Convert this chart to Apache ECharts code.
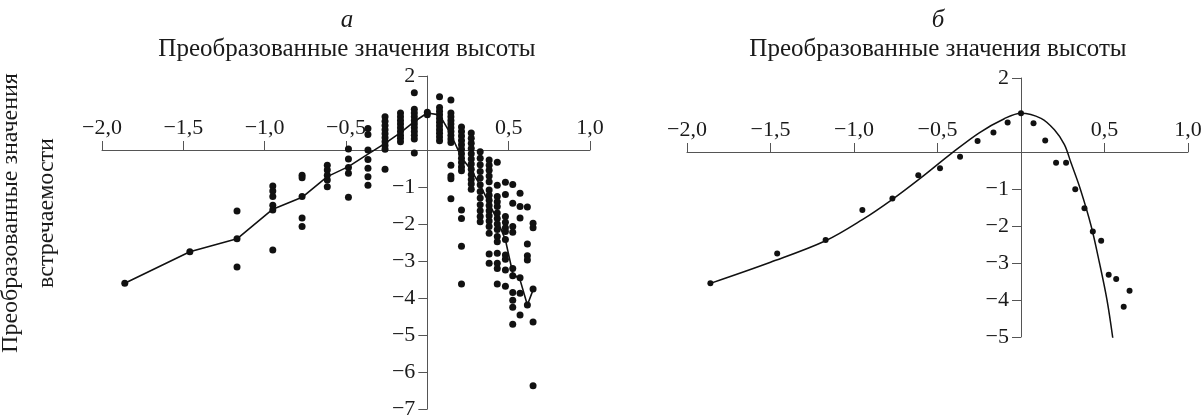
<!DOCTYPE html>
<html>
<head>
<meta charset="utf-8">
<title>Преобразованные значения</title>
<script src="https://cdn.jsdelivr.net/npm/echarts@6/dist/echarts.min.js"></script>
<style>
  html, body { margin: 0; padding: 0; background: #fff; }
  #chart { width: 1202px; height: 416px; }
</style>
</head>
<body>
<div id="chart"></div>
<script>
// height classes (transformed), shared by both panels
const heightX = [-1.86, -1.46, -1.17, -0.95, -0.77, -0.615, -0.485, -0.365, -0.26, -0.165, -0.08, 0,
  0.075, 0.145, 0.21, 0.27, 0.325, 0.38, 0.43, 0.48, 0.525, 0.57, 0.615, 0.65]

// panel a: raw points per height class
const pointsA = [
  [-3.6],
  [-2.75],
  [-1.65, -2.4, -3.16],
  [-0.97, -1.11, -1.26, -1.49, -1.62, -2.7],
  [-0.68, -0.75, -1.26, -1.84, -2.07],
  [-0.41, -0.54, -0.68, -0.81, -0.99],
  [0.03, -0.24, -0.47, -0.63, -1.28],
  [0.58, 0.42, 0.0, -0.26, -0.49, -0.72, -0.95],
  [0.9, 0.78, 0.66, 0.55, 0.44, 0.33, 0.22, 0.12, 0.02, -0.52],
  [1.0, 0.9, 0.8, 0.7, 0.6, 0.5, 0.4, 0.32, 0.22],
  [1.55, 1.1, 1.0, 0.9, 0.8, 0.7, 0.6, 0.5, 0.4, 0.3, -0.08],
  [1.02, 0.95],
  [1.44, 1.15, 1.05, 0.95, 0.85, 0.75, 0.65, 0.55, 0.45, 0.35, 0.25],
  [1.35, 1.0, 0.9, 0.8, 0.7, 0.6, 0.5, 0.4, 0.3, 0.2, -0.41, -0.7, -0.78, -1.32],
  [0.62, 0.5, 0.38, 0.26, 0.14, 0.02, -0.1, -0.22, -0.34, -0.46, -0.56, -1.62, -1.85, -2.6, -3.62],
  [0.46, 0.32, 0.18, 0.04, -0.1, -0.24, -0.38, -0.52, -0.66, -0.8, -0.92, -1.06],
  [-0.05, -0.22, -0.4, -0.58, -0.76, -0.94, -1.12, -1.3, -1.48, -1.64, -1.8, -1.94],
  [-0.27, -0.41, -0.55, -0.7, -0.86, -1.08, -1.22, -1.36, -1.5, -1.64, -1.78, -1.92, -2.07, -2.25, -2.81, -3.06],
  [-0.33, -0.95, -1.26, -1.4, -1.53, -1.7, -1.85, -2.0, -2.15, -2.34, -2.48, -2.79, -3.06, -3.2, -3.62],
  [-0.87, -1.2, -1.8, -1.95, -2.1, -2.2, -2.42, -2.84, -2.95, -3.24, -3.68],
  [-0.93, -1.44, -2.07, -2.22, -3.2, -3.4, -3.85, -4.06, -4.25, -4.71],
  [-1.17, -1.53, -1.84, -3.45, -3.87, -4.46],
  [-1.54, -2.54, -2.86, -2.97, -4.19],
  [-1.98, -2.1, -3.76, -4.65, -6.37]
]

// panel a: broken line through the class values
const lineA = [-3.6, -2.75, -2.4, -1.6, -1.28, -0.72, -0.45, -0.11, 0.18, 0.47, 0.77, 1.0,
  0.95, 0.42, -0.2, -0.55, -0.95, -1.44, -1.89, -2.43, -3.33, -3.51, -4.19, -3.78]

// panel b: class means
const meansB = [-3.55, -2.74, -2.38, -1.57, -1.26, -0.63, -0.44, -0.13, 0.3, 0.53, 0.8, 1.05,
  0.78, 0.31, -0.29, -0.29, -1.01, -1.52, -2.15, -2.4, -3.32, -3.43, -4.18, -3.75]

// panel b: fitted curve
const curveBX = [-1.86, -1.5, -1.17, -0.95, -0.77, -0.6, -0.42, -0.25, -0.1, 0, 0.12, 0.2, 0.26, 0.3, 0.355, 0.42, 0.47, 0.515, 0.55]
const curveBY = [-3.55, -2.98, -2.4, -1.83, -1.28, -0.7, -0.05, 0.52, 0.9, 1.05, 0.91, 0.6, 0.2, -0.3, -1, -2, -3, -4, -5.04]

const xTicks = [-2, -1.5, -1, -0.5, 0.5, 1]
const yTicksA = [2, -1, -2, -3, -4, -5, -6, -7]
const yTicksB = [2, -1, -2, -3, -4, -5]

const FONT = '"Liberation Serif", "DejaVu Serif", serif'
const INK = '#1a1a1a'
const AXIS = '#555'
const TICK_SIZE = 22
const TEXT_SIZE = 25

function fmtX(v) {
  return (v < 0 ? '\u2212' : '') + Math.abs(v).toFixed(1).replace('.', ',')
}
function fmtY(v) {
  return (v < 0 ? '\u2212' : '') + Math.abs(v)
}

// the axes cross at zero: shift each axis line into the grid with a negative offset
function xAxis(gridIndex, offset) {
  return {
    type: 'value', gridIndex: gridIndex, min: -2, max: 1, interval: 0.5, position: 'top', offset: offset,
    axisLine: { onZero: false, lineStyle: { color: AXIS, width: 1 } },
    axisTick: { customValues: xTicks, length: 9, lineStyle: { color: AXIS } },
    axisLabel: { customValues: xTicks, formatter: fmtX, margin: 11, fontFamily: FONT, fontSize: TICK_SIZE, color: INK },
    splitLine: { show: false }
  }
}
function yAxis(gridIndex, min, ticks, offset) {
  return {
    type: 'value', gridIndex: gridIndex, min: min, max: 2, interval: 1, position: 'left', offset: offset,
    axisLine: { onZero: false, lineStyle: { color: AXIS, width: 1 } },
    axisTick: { customValues: ticks, length: 9, lineStyle: { color: AXIS } },
    axisLabel: { customValues: ticks, formatter: fmtY, margin: 12, fontFamily: FONT, fontSize: TICK_SIZE, color: INK },
    splitLine: { show: false }
  }
}

const scatterData = []
heightX.forEach((x, i) => pointsA[i].forEach(y => scatterData.push([x, y])))

const chart = echarts.init(document.getElementById('chart'), null, { renderer: 'canvas' })
chart.setOption({
  animation: false,
  backgroundColor: '#fff',
  grid: [
    { left: 102, top: 76, width: 488, height: 333, outerBoundsMode: 'none' },
    { left: 687, top: 78, width: 501, height: 259, outerBoundsMode: 'none' }
  ],
  // 37 px per y unit, zero 74 px below the top; x zero at 2/3 of the width
  xAxis: [xAxis(0, -74), xAxis(1, -74)],
  yAxis: [yAxis(0, -7, yTicksA, -488 * 2 / 3), yAxis(1, -5, yTicksB, -501 * 2 / 3)],
  graphic: [
    { type: 'text', x: 347, y: 20, style: { text: 'а', font: 'italic ' + TEXT_SIZE + 'px ' + FONT, fill: INK, align: 'center', verticalAlign: 'middle' } },
    { type: 'text', x: 347, y: 49, style: { text: 'Преобразованные значения высоты', font: TEXT_SIZE + 'px ' + FONT, fill: INK, align: 'center', verticalAlign: 'middle' } },
    { type: 'text', x: 938, y: 20, style: { text: 'б', font: 'italic ' + TEXT_SIZE + 'px ' + FONT, fill: INK, align: 'center', verticalAlign: 'middle' } },
    { type: 'text', x: 938, y: 49, style: { text: 'Преобразованные значения высоты', font: TEXT_SIZE + 'px ' + FONT, fill: INK, align: 'center', verticalAlign: 'middle' } },
    {
      type: 'text', x: 29, y: 213, rotation: Math.PI / 2,
      style: { text: 'Преобразованные значения\nвстречаемости', font: '24px ' + FONT, lineHeight: 36, fill: INK, align: 'center', verticalAlign: 'middle' }
    }
  ],
  series: [
    {
      type: 'scatter', xAxisIndex: 0, yAxisIndex: 0,
      symbolSize: 7, itemStyle: { color: '#111', opacity: 1 },
      data: scatterData
    },
    {
      type: 'line', xAxisIndex: 0, yAxisIndex: 0,
      showSymbol: false, lineStyle: { color: '#111', width: 1.6 },
      data: heightX.map((x, i) => [x, lineA[i]])
    },
    {
      type: 'scatter', xAxisIndex: 1, yAxisIndex: 1,
      symbolSize: 6, itemStyle: { color: '#111', opacity: 1 },
      data: heightX.map((x, i) => [x, meansB[i]])
    },
    {
      type: 'line', xAxisIndex: 1, yAxisIndex: 1,
      smooth: 0.35, showSymbol: false, lineStyle: { color: '#111', width: 1.5 },
      data: curveBX.map((x, i) => [x, curveBY[i]])
    }
  ]
})
</script>
</body>
</html>
